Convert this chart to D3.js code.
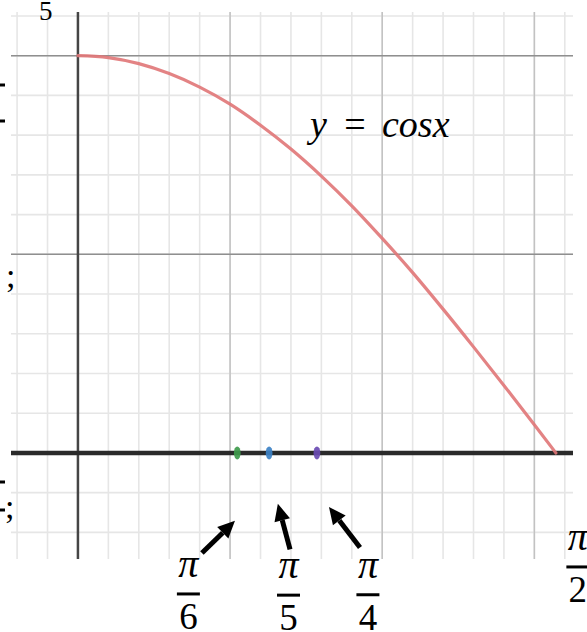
<!DOCTYPE html>
<html>
<head>
<meta charset="utf-8">
<script src="https://cdn.jsdelivr.net/npm/d3@7/dist/d3.min.js"></script>
<style>
  html, body { margin: 0; padding: 0; background: #fff; }
  svg { display: block; }
  .serif { font-family: "Liberation Serif", "DejaVu Serif", serif; }
</style>
</head>
<body>
<div id="chart"></div>
<script>
// y = cos x on [0, π/2], sampled values
const curveX = [0, 0.1, 0.2, 0.3, 0.4, 0.5, 0.6, 0.7, 0.8, 0.9, 1.0, 1.1, 1.2, 1.3, 1.4, 1.5, 1.5708];
const curveY = [1, 0.995, 0.980, 0.955, 0.921, 0.878, 0.825, 0.765, 0.697, 0.622, 0.540, 0.454, 0.362, 0.267, 0.170, 0.071, 0];

// marked points on the x-axis
const markX = [Math.PI / 6, Math.PI / 5, Math.PI / 4];
const markColors = ["#3f9b4c", "#3d82c6", "#6a4bb3"];

// fraction labels (denominator, centre x, bar y in data units)
const fracDenoms = ["6", "5", "4", "2"];
const fracX = [0.363, 0.692, 0.953, 1.643];
const fracY = [-0.355, -0.358, -0.357, -0.287];

// arrows pointing from the labels to the marked points
const arrowTail = [[0.4075, -0.252], [0.697, -0.243], [0.927, -0.238]];
const arrowTip = [[0.516, -0.171], [0.657, -0.128], [0.825, -0.136]];

// grid
const gridXMinor = d3.range(-2, 17).map(i => i / 10);
const gridXMajor = [0.5, 1.0, 1.5];
const gridYMinor = d3.range(-2, 12).map(i => i / 10);
const gridYMajor = [0.5, 1.0];

const W = 587, H = 632;
const x = d3.scaleLinear().domain([-0.22, 1.627]).range([11, 573]);
const y = d3.scaleLinear().domain([-0.267, 1.11]).range([559, 12]);

const svg = d3.select("#chart").append("svg")
  .attr("width", W).attr("height", H)
  .attr("viewBox", `0 0 ${W} ${H}`);

const [x0, x1] = x.range();
const [yb, yt] = y.range();

// minor grid
const g = svg.append("g");
g.selectAll(".vmin").data(gridXMinor.filter(v => Math.abs(v) > 1e-9)).join("line")
  .attr("x1", d => x(d)).attr("x2", d => x(d)).attr("y1", yt).attr("y2", yb)
  .attr("stroke", "#e6e6e6").attr("stroke-width", 1.6);
g.selectAll(".hmin").data(gridYMinor.filter(v => Math.abs(v) > 1e-9)).join("line")
  .attr("x1", x0).attr("x2", x1).attr("y1", d => y(d)).attr("y2", d => y(d))
  .attr("stroke", "#e6e6e6").attr("stroke-width", 1.6);
// major grid
g.selectAll(".vmaj").data(gridXMajor).join("line")
  .attr("x1", d => x(d)).attr("x2", d => x(d)).attr("y1", yt).attr("y2", yb)
  .attr("stroke", "#c2c2c2").attr("stroke-width", 1.5);
g.selectAll(".hmaj").data(gridYMajor).join("line")
  .attr("x1", x0).attr("x2", x1).attr("y1", d => y(d)).attr("y2", d => y(d))
  .attr("stroke", "#8f8f8f").attr("stroke-width", 1.5);

// axes
svg.append("line")
  .attr("x1", x(0)).attr("x2", x(0)).attr("y1", yt).attr("y2", yb)
  .attr("stroke", "#454545").attr("stroke-width", 2.5);
svg.append("line")
  .attr("x1", x0).attr("x2", x1).attr("y1", y(0)).attr("y2", y(0))
  .attr("stroke", "#2a2a2a").attr("stroke-width", 4.5);

// curve
const pts = curveX.map((v, i) => [v, curveY[i]]);
svg.append("path")
  .attr("d", d3.line().x(d => x(d[0])).y(d => y(d[1])).curve(d3.curveMonotoneX)(pts))
  .attr("fill", "none").attr("stroke", "#e07577").attr("stroke-opacity", 0.9)
  .attr("stroke-width", 3.2).attr("stroke-linecap", "round");

// marked points
svg.selectAll(".mark").data(markX).join("ellipse")
  .attr("cx", d => x(d)).attr("cy", y(0))
  .attr("rx", 3.4).attr("ry", 6.5)
  .attr("fill", (d, i) => markColors[i]).attr("opacity", 0.92);

// arrows
arrowTail.forEach((t, i) => {
  const [tx, ty] = [x(t[0]), y(t[1])];
  const [hx, hy] = [x(arrowTip[i][0]), y(arrowTip[i][1])];
  const ang = Math.atan2(hy - ty, hx - tx);
  const headLen = 17, headW = 8;
  const bx = hx - headLen * Math.cos(ang), by = hy - headLen * Math.sin(ang);
  svg.append("line")
    .attr("x1", tx).attr("y1", ty).attr("x2", bx).attr("y2", by)
    .attr("stroke", "#000").attr("stroke-width", 5);
  const px = -Math.sin(ang) * headW, py = Math.cos(ang) * headW;
  svg.append("polygon")
    .attr("points", `${hx},${hy} ${bx + px},${by + py} ${bx - px},${by - py}`)
    .attr("fill", "#000");
});

// fraction labels
fracDenoms.forEach((dn, i) => {
  const cx = x(fracX[i]), by = y(fracY[i]);
  const fg = svg.append("g").attr("class", "serif");
  fg.append("text").attr("x", cx).attr("y", by - 17)
    .attr("text-anchor", "middle")
    .style("font-style", "italic").style("font-size", "40px").attr("fill", "#000")
    .text("π");
  fg.append("line").attr("x1", cx - 11.5).attr("x2", cx + 11.5)
    .attr("y1", by).attr("y2", by).attr("stroke", "#000").attr("stroke-width", 3);
  fg.append("text").attr("x", cx).attr("y", by + 35)
    .attr("text-anchor", "middle")
    .style("font-size", "37px").attr("fill", "#000")
    .text(dn);
});

// function label
const fl = svg.append("g").attr("class", "serif").style("font-size", "38px").attr("fill", "#000");
fl.append("text").attr("x", 310).attr("y", 137).style("font-style", "italic").text("y");
fl.append("text").attr("x", 355).attr("y", 137).attr("text-anchor", "middle").text("=");
fl.append("text").attr("x", 382).attr("y", 137).style("font-style", "italic").text("cosx");

// clipped text fragments along the left and top edges
const edge = svg.append("g").attr("class", "serif").attr("fill", "#000");
edge.append("text").attr("x", 39).attr("y", 20).style("font-size", "27px").text("5");
edge.append("text").attr("x", 6).attr("y", 287).style("font-size", "34px").text(";");
edge.append("text").attr("x", 5).attr("y", 518).style("font-size", "34px").text(";");
[[85], [121], [482], [510]].forEach(([yy]) => {
  edge.append("line").attr("x1", 0).attr("x2", 5).attr("y1", yy).attr("y2", yy)
    .attr("stroke", "#000").attr("stroke-width", 3);
});
</script>
</body>
</html>
